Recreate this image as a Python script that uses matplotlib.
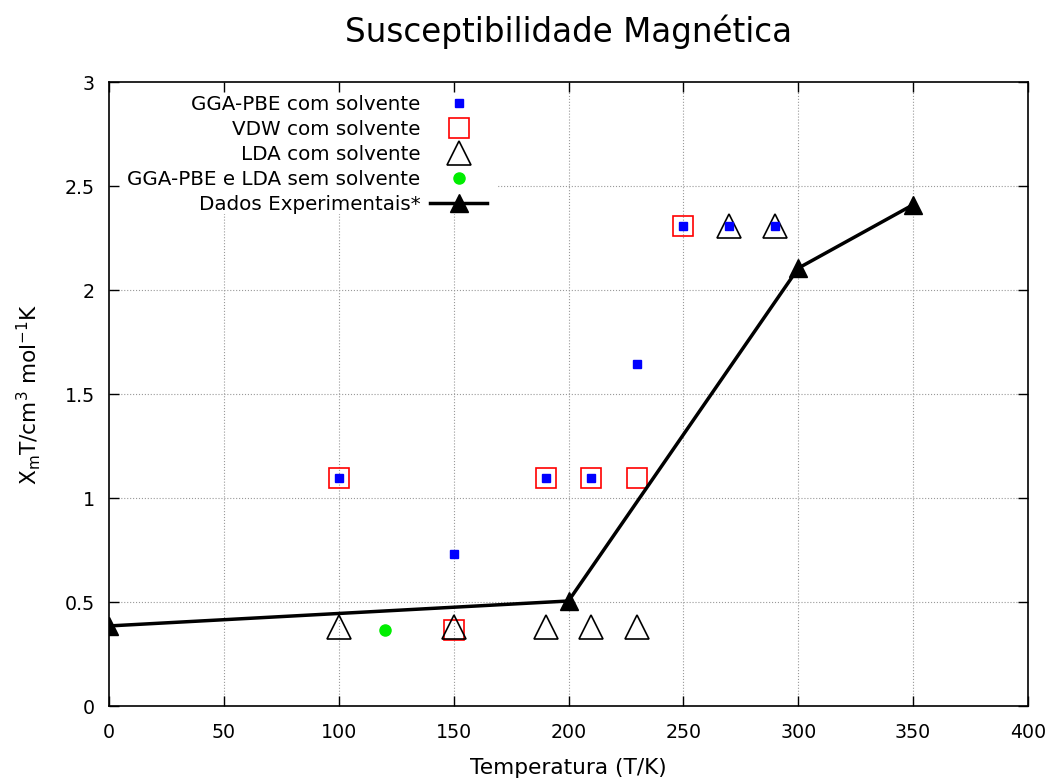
import numpy as np
import matplotlib.pyplot as plt
from matplotlib.patches import Rectangle

# Temperatura (K) e X_m T para cada conjunto
t_gga = [100, 150, 190, 210, 230, 250, 270, 290]
x_gga = [1.095, 0.73, 1.095, 1.095, 1.645, 2.31, 2.31, 2.31]

t_vdw = [100, 150, 190, 210, 230, 250]
x_vdw = [1.095, 0.365, 1.095, 1.095, 1.095, 2.31]

t_lda = [100, 150, 190, 210, 230, 270, 290]
x_lda = [0.38, 0.38, 0.38, 0.38, 0.38, 2.31, 2.31]

t_sem = [120]
x_sem = [0.365]

t_exp = [0, 200, 300, 350]
x_exp = [0.385, 0.505, 2.105, 2.41]

x_ticks = [0, 50, 100, 150, 200, 250, 300, 350, 400]
y_ticks = [0, 0.5, 1, 1.5, 2, 2.5, 3]
y_tick_labels = ["0", "0.5", "1", "1.5", "2", "2.5", "3"]

fig = plt.figure(figsize=(10.53, 7.78), dpi=100)
ax = fig.add_axes([0.1035, 0.0925, 0.8728, 0.8021])
ax.set_xlim(0, 400)
ax.set_ylim(0, 3)

# grade pontilhada desenhada à mão para ficar atrás da caixa da legenda
ax.vlines(x_ticks[1:-1], 0, 3, colors="#999999", linestyles=":", lw=0.8, zorder=0.2)
ax.hlines(y_ticks[1:-1], 0, 400, colors="#999999", linestyles=":", lw=0.8, zorder=0.2)
ax.add_patch(Rectangle((0, (706 - 214) / 624), (497 - 109) / 919, 1,
                       transform=ax.transAxes, facecolor="white",
                       edgecolor="none", zorder=0.5))

ax.plot(t_vdw, x_vdw, ls="none", marker="s", ms=14.5, mfc="none", mec="red",
        mew=1.2, label="VDW com solvente", zorder=3)
ax.plot(t_lda, x_lda, ls="none", marker="^", ms=17, mfc="none", mec="black",
        mew=1.2, label="LDA com solvente", zorder=3)
ax.plot(t_sem, x_sem, ls="none", marker="o", ms=8, mfc="#00ee00", mec="#00ee00",
        label="GGA-PBE e LDA sem solvente", zorder=3)
ax.plot(t_exp, x_exp, color="black", lw=2.5, marker="^", ms=13,
        label="Dados Experimentais*", zorder=4)
ax.plot(t_gga, x_gga, ls="none", marker="s", ms=5.8, mfc="blue", mec="blue",
        label="GGA-PBE com solvente", zorder=5)

ax.set_xticks(x_ticks)
ax.set_yticks(y_ticks)
ax.set_yticklabels(y_tick_labels)
ax.tick_params(direction="in", length=7, width=1, top=True, right=True,
               labelsize=13.7)
ax.tick_params(axis="x", pad=12)
ax.tick_params(axis="y", pad=10)
for s in ax.spines.values():
    s.set_linewidth(1.2)

ax.set_title("Susceptibilidade Magnética", fontsize=23.5, pad=29)
ax.set_xlabel("Temperatura (T/K)", fontsize=15.6, labelpad=12)
ax.set_ylabel(r"X$_\mathregular{m}$T/cm$^\mathregular{3}$ mol$^\mathregular{-1}$K",
              fontsize=15.6, labelpad=16)

handles, labels = ax.get_legend_handles_labels()
order = [4, 0, 1, 2, 3]
leg = ax.legend([handles[i] for i in order], [labels[i] for i in order],
                loc="upper right", bbox_to_anchor=(487 / 1053, 1 - 95 / 778),
                bbox_transform=fig.transFigure, markerfirst=False,
                fontsize=14.3, frameon=False, handlelength=2.86,
                handletextpad=0.5, labelspacing=0.30, borderpad=0,
                borderaxespad=0)
for t in leg.get_texts():
    t.set_ha("right")
leg.set_zorder(6)

fig.savefig("out.png", dpi=100)
